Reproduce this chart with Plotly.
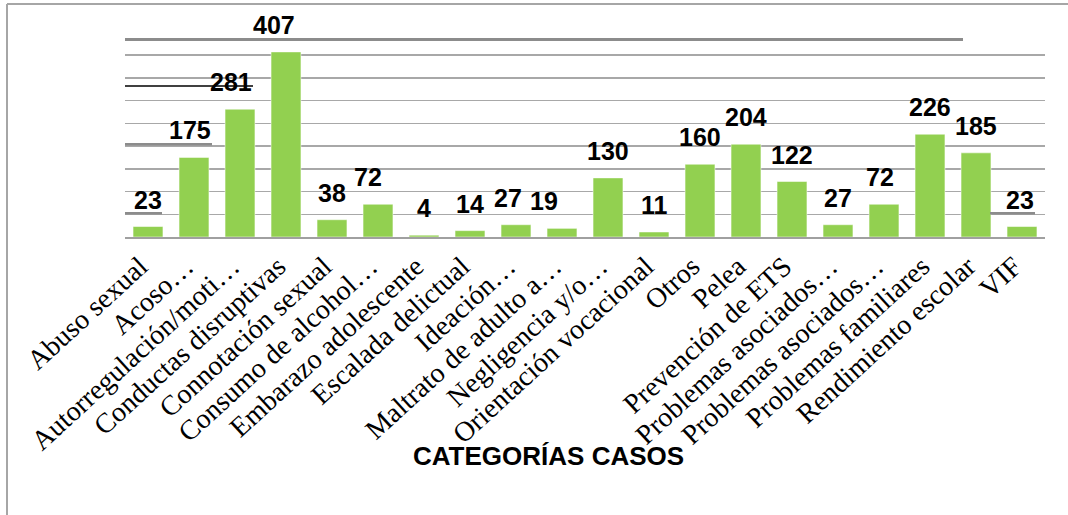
import plotly.graph_objects as go

categories = [
    "Abuso sexual", "Acoso…", "Autorregulación/moti…", "Conductas disruptivas",
    "Connotación sexual", "Consumo de alcohol…", "Embarazo adolescente",
    "Escalada delictual", "Ideación…", "Maltrato de adulto a…", "Negligencia y/o…",
    "Orientación vocacional", "Otros", "Pelea", "Prevención de ETS",
    "Problemas asociados…", "Problemas asociados…", "Problemas familiares",
    "Rendimiento escolar", "VIF",
]
values = [23, 175, 281, 407, 38, 72, 4, 14, 27, 19, 130, 11, 160, 204, 122, 27, 72, 226, 185, 23]
axis_title = "CATEGORÍAS CASOS"

# small horizontal offsets of the value labels (style only)
label_xshift = [0, -4, -9, -12, 0, -10, 0, 0, -8, -18, 0, 0, 0, 0, 0, 0, -4, 0, 0, -2]

W, H = 1068, 515
L, R, T, B = 125, 23, 46, 278
PW, PH = W - L - R, H - T - B

def fx(px):
    return (px - L) / PW

def fy(py):
    return (H - B - py) / PH

xs = list(range(len(categories)))

fig = go.Figure()
fig.add_trace(go.Bar(
    x=xs, y=values,
    marker=dict(color="#92D050", line=dict(color="#ffffff", width=0.5)),
    hoverinfo="skip",
))

for i, v in enumerate(values):
    fig.add_annotation(
        x=xs[i], y=v, xref="x", yref="y", text="<b>" + str(v) + "</b>", showarrow=False,
        yanchor="bottom", xanchor="center", yshift=11, xshift=label_xshift[i],
        font=dict(family="Liberation Sans, Arial", size=25, color="#000000"),
    )

fig.add_annotation(
    x=fx(548), y=fy(456), xref="paper", yref="paper", text="<b>" + axis_title + "</b>",
    showarrow=False, xanchor="center", yanchor="middle",
    font=dict(family="Liberation Sans, Arial", size=26, color="#000000"),
)

shapes = []
# outer border (left and top edges visible)
shapes.append(dict(type="line", xref="paper", yref="paper", x0=fx(7), x1=fx(7), y0=fy(4), y1=fy(520),
                   line=dict(color="#a6a6a6", width=2)))
shapes.append(dict(type="line", xref="paper", yref="paper", x0=fx(7), x1=fx(1075), y0=fy(4), y1=fy(4),
                   line=dict(color="#a6a6a6", width=2)))
# stray line segments seen in the picture
for (x0, x1, y, c, w) in [
    (125, 963, 39.5, "#8c8c8c", 3),
    (125, 253, 86, "#000000", 1.5),
    (125, 212, 144.3, "#8c8c8c", 2.5),
    (125, 162, 213.3, "#8c8c8c", 2.5),
    (990, 1035, 213.3, "#8c8c8c", 2.5),
]:
    shapes.append(dict(type="line", xref="paper", yref="paper", x0=fx(x0), x1=fx(x1), y0=fy(y), y1=fy(y),
                       line=dict(color=c, width=w)))

fig.update_layout(
    width=W, height=H,
    margin=dict(l=L, r=R, t=T, b=B, autoexpand=False),
    paper_bgcolor="#ffffff", plot_bgcolor="#ffffff",
    bargap=0.35,
    showlegend=False,
    shapes=shapes,
    xaxis=dict(
        tickmode="array", tickvals=xs, ticktext=categories,
        tickangle=-42.5, range=[-0.5, len(xs) - 0.5],
        tickfont=dict(family="Liberation Serif, Times New Roman", size=28, color="#000000"),
        ticklabelshift=-8,
        showgrid=False, zeroline=False, showline=True, linecolor="#a0a0a0", linewidth=2,
        ticks="",
    ),
    yaxis=dict(
        range=[0, 420], dtick=50, showticklabels=False, showgrid=True,
        gridcolor="#a8a8a8", gridwidth=1.5, zeroline=False, ticks="",
    ),
)

fig.write_html(
    "out.html",
    config={"displayModeBar": False, "staticPlot": True},
    post_script="document.body.style.margin='0';document.body.style.overflow='hidden';",
)
